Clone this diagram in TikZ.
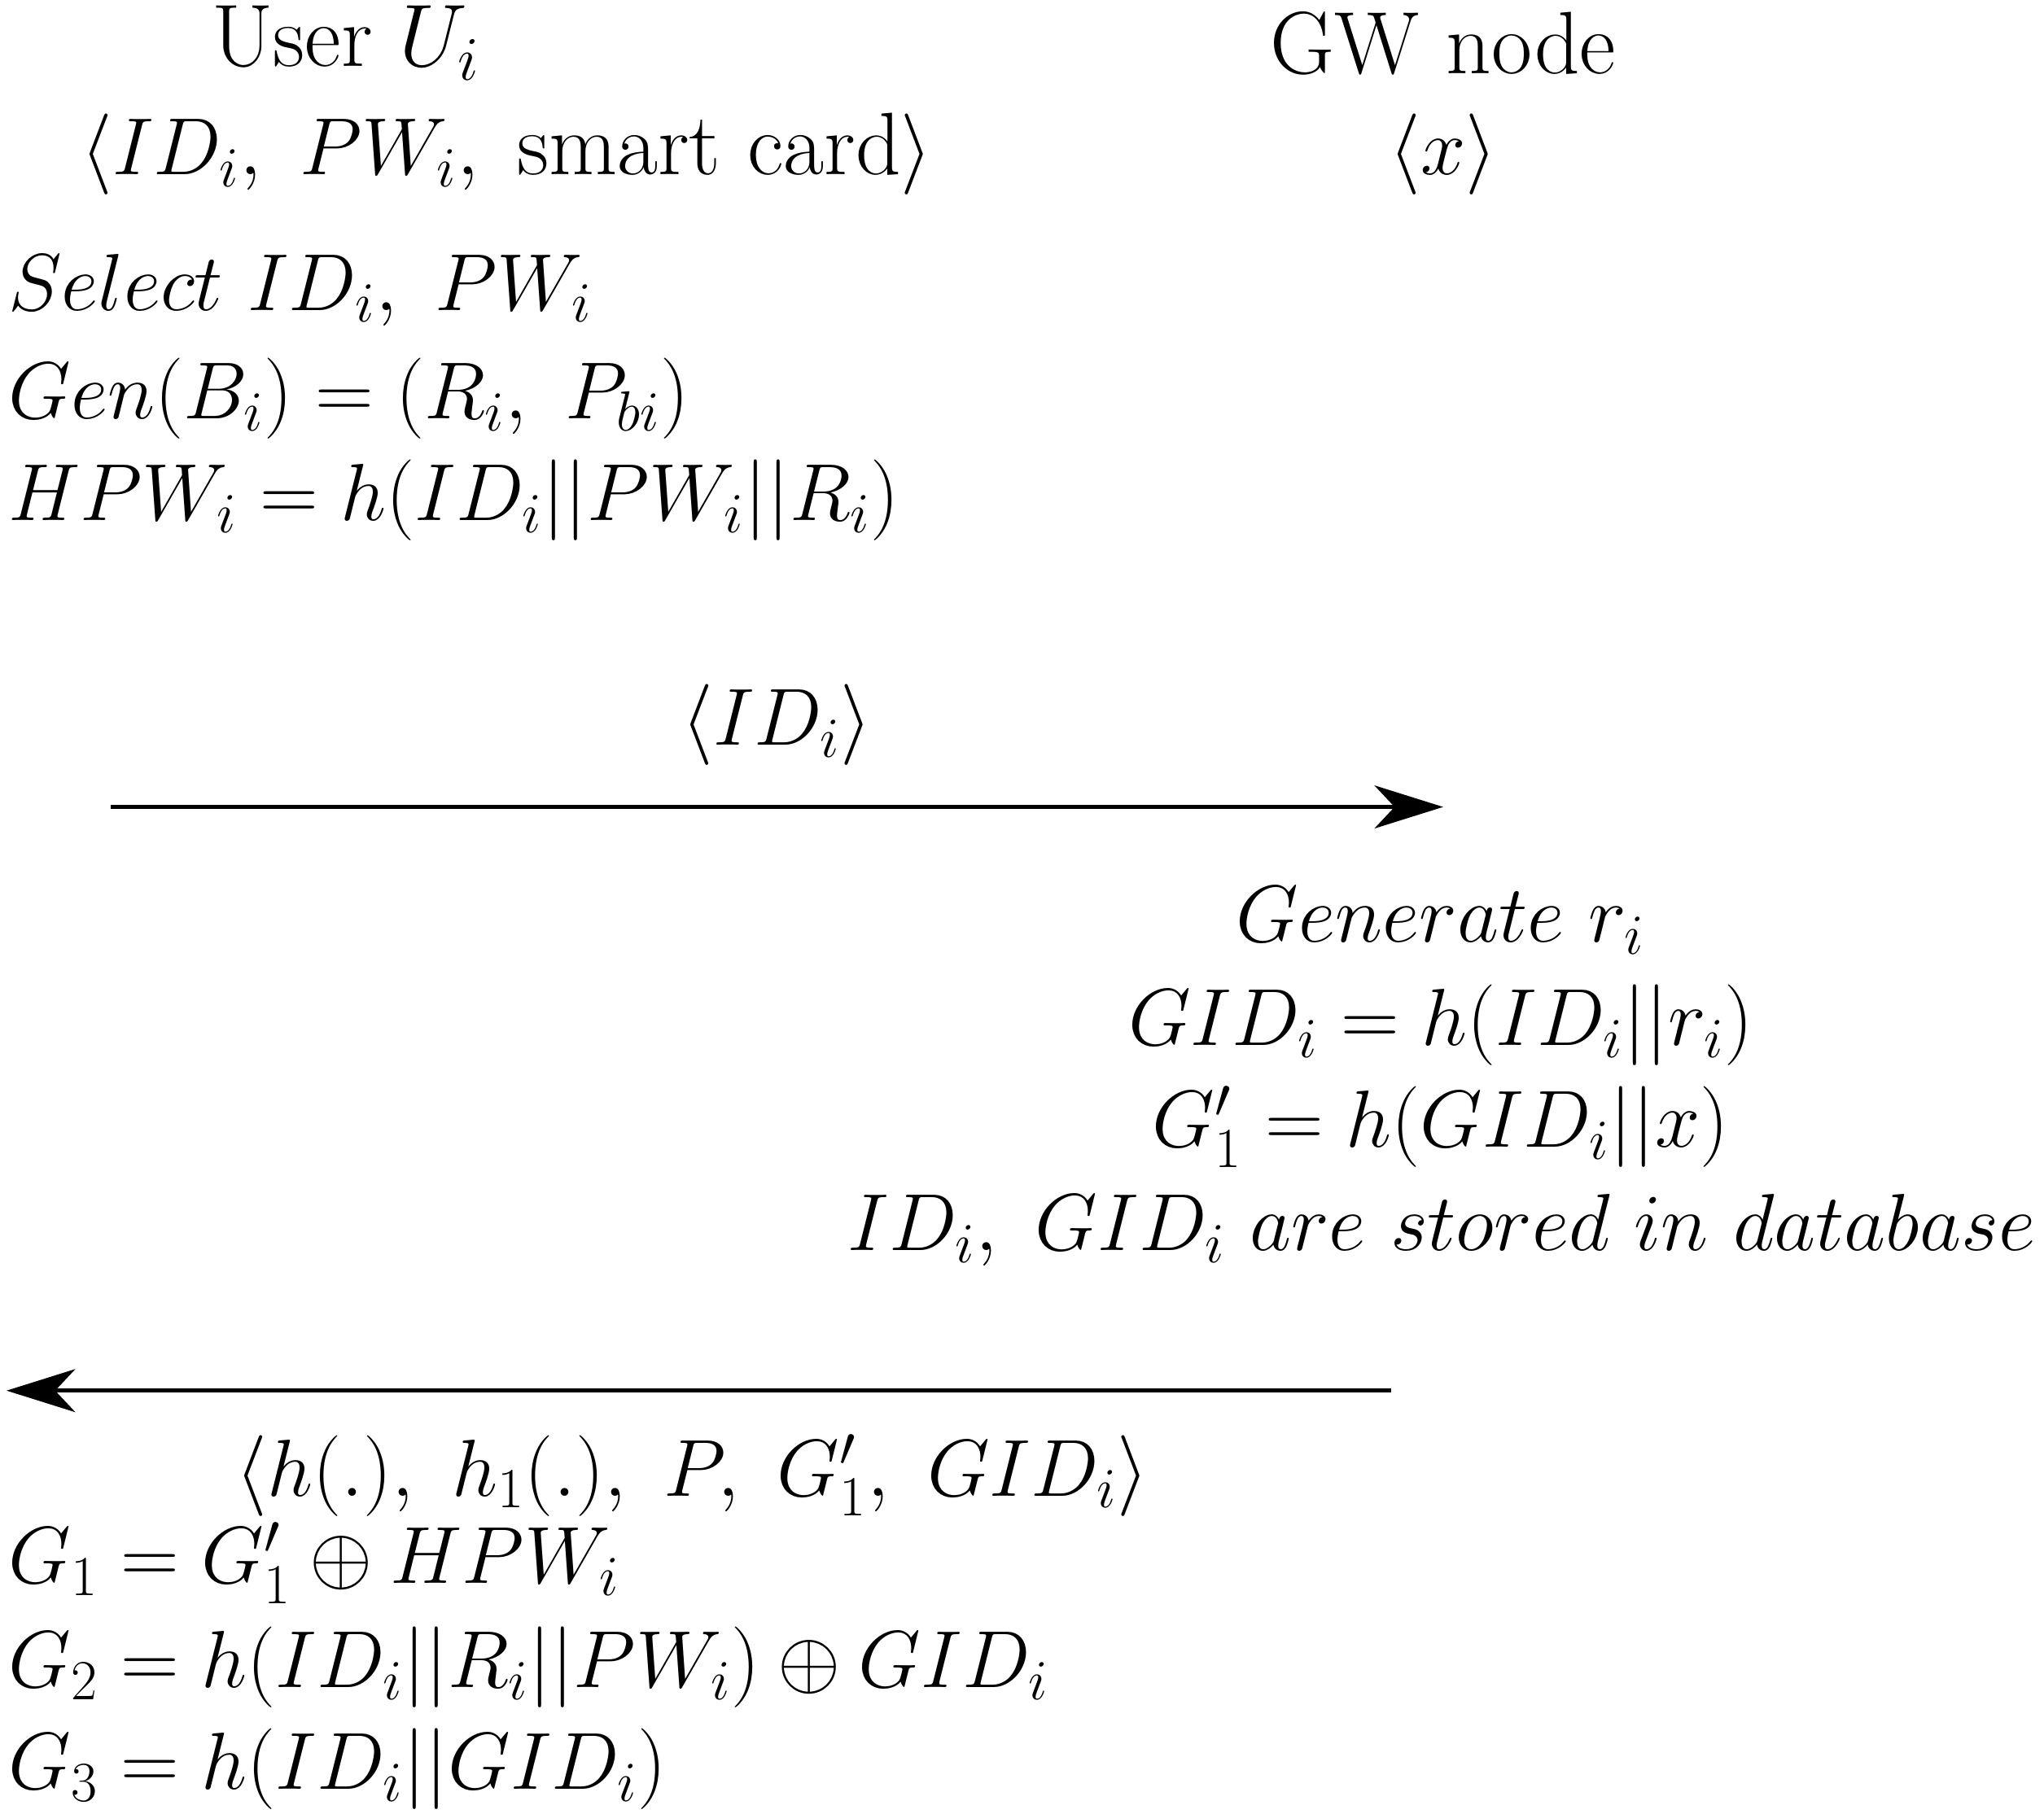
\RequirePackage{fix-cm}
\documentclass[tikz,border=0pt]{standalone}
\usetikzlibrary{arrows.meta}
\begin{document}
\begin{tikzpicture}[x=0.016045cm,y=-0.016045cm,
  t/.style={inner sep=0pt,font=\fontsize{28.3}{34}\selectfont},
  h/.style={inner sep=0pt,font=\fontsize{31}{36}\selectfont},
  l/.style={t,anchor=west},
  arr/.style={line width=1.5pt,-{Stealth[length=24pt,width=15pt,inset=7pt]}}]
\useasboundingbox (0,0) rectangle (1565,1389);
\node[h] (u) at (265,33) {User $U_i$};
\node[t] (uk) at (388,118) {$\langle ID_i,\ PW_i,\ \mbox{\fontsize{31}{36}\selectfont smart card}\rangle$};
\node[h] (g) at (1105,33) {GW node};
\node[t] (gk) at (1105,118) {$\langle x\rangle$};
\node[l] (a1) at (6,222) {$Select\ ID_i,\ PW_i$};
\node[l] (a2) at (6,305) {$Gen(B_i)=(R_i,\ P_{bi})$};
\node[l] (a3) at (6,383) {$HPW_i=h(ID_i||PW_i||R_i)$};
\node[t] (m1) at (595,555) {$\langle ID_i\rangle$};
\coordinate (p1) at (85,618);
\coordinate (q1) at (1105,618);
\draw[arr] (p1) -- (q1);
\node[t] (b1) at (1103,705) {$Generate\ r_i$};
\node[t] (b2) at (1103,785) {$GID_i=h(ID_i||r_i)$};
\node[t] (b3) at (1103,863) {$G_1'=h(GID_i||x)$};
\node[t] (b4) at (1104,942) {$ID_i,\ GID_i\ are\ stored\ in\ database$};
\coordinate (p2) at (1065,1065);
\coordinate (q2) at (5,1065);
\draw[arr] (p2) -- (q2);
\node[t] (m2) at (530,1130) {$\langle h(.),\ h_1(.),\ P,\ G_1',\ GID_i\rangle$};
\node[l] (c1) at (6,1197) {$G_1=G_1'\oplus HPW_i$};
\node[l] (c2) at (6,1277) {$G_2=h(ID_i||R_i||PW_i)\oplus GID_i$};
\node[l] (c3) at (6,1355) {$G_3=h(ID_i||GID_i)$};
\end{tikzpicture}
\end{document}
